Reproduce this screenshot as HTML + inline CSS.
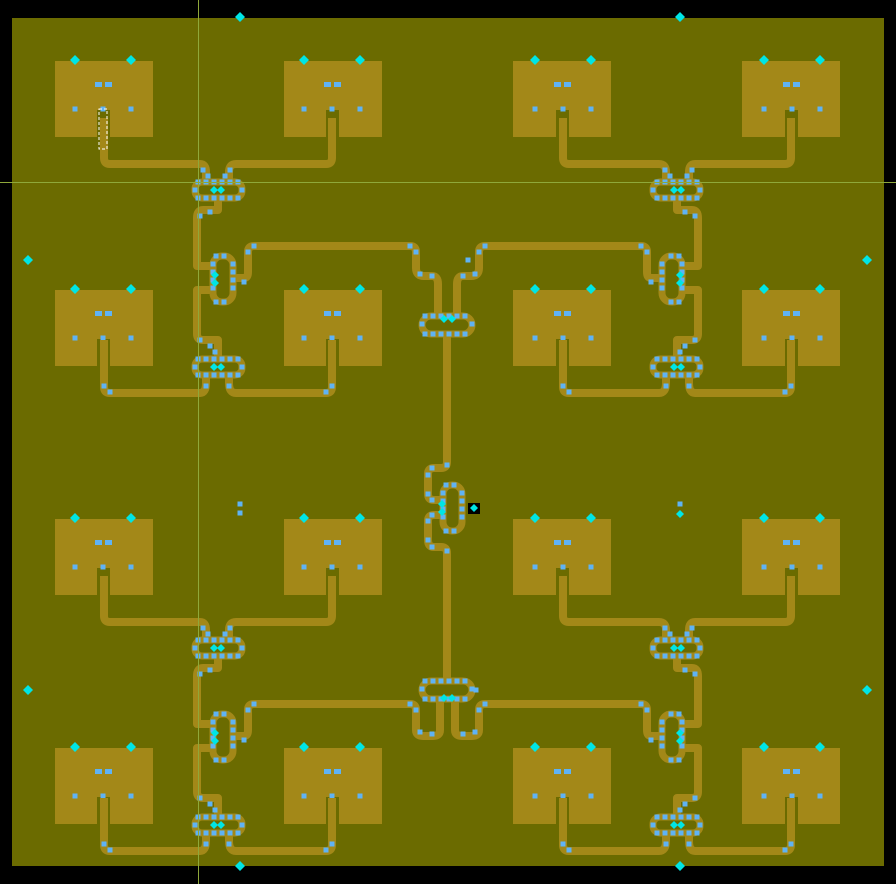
<!DOCTYPE html>
<html><head><meta charset="utf-8"><style>
html,body{margin:0;padding:0;background:#000;width:896px;height:884px;overflow:hidden}
svg{display:block}
</style></head><body>
<svg id="s" width="896" height="884" xmlns="http://www.w3.org/2000/svg"></svg>
<script>
var T='#a38818',V='#5fb3f5',C='#00e5e5';
var o='';
o+='<rect x="0" y="0" width="896" height="884" fill="#000"/>';
o+='<rect x="12" y="18" width="872" height="848" fill="#6b6b00"/>';
function via(x,y){return '<rect x="'+(x-2.5)+'" y="'+(y-2.5)+'" width="5" height="5" fill="'+V+'"/>';}
function dia(x,y,r){r=r||5;return '<path d="M'+x+','+(y-r)+' L'+(x+r)+','+y+' L'+x+','+(y+r)+' L'+(x-r)+','+y+'Z" fill="'+C+'"/>';}
function pad(x,y){
 var s='<path d="M'+x+','+y+' h98 v76 h-43 v-27 h-13 v27 h-42 z" fill="'+T+'"/>';
 s+=via(x+20,y+48)+via(x+48,y+48)+via(x+76,y+48);
 s+='<rect x="'+(x+40)+'" y="'+(y+21)+'" width="7" height="5" fill="'+V+'"/><rect x="'+(x+50)+'" y="'+(y+21)+'" width="7" height="5" fill="'+V+'"/>';
 s+=dia(x+20,y-1)+dia(x+76,y-1);
 return s;
}
function tr(d){return '<path d="'+d+'" fill="none" stroke="'+T+'" stroke-width="8" stroke-linejoin="round"/>';}
function loop(x,y,w,h,r){
 var s='<rect x="'+x+'" y="'+y+'" width="'+w+'" height="'+h+'" rx="'+r+'" fill="none" stroke="'+T+'" stroke-width="7"/>';
 var st=8;
 for(var i=x+3;i<=x+w-3;i+=st){s+=via(i,y)+via(i,y+h);}
 for(var j=y+st;j<=y+h-st;j+=st){s+=via(x,j)+via(x+w,j);}
 return s;
}
function group(bottom){
 var s='';
 s+=pad(55,61)+pad(284,61)+pad(55,290)+pad(284,290);
 s+=tr('M104,118 V158 Q104,164 110,164 H200 Q206,164 206,172 V182');
 s+=tr('M332,118 V158 Q332,164 326,164 H236 Q229,164 229,172 V182');
 s+=tr('M218,198 V210 H203 Q197,210 197,218 V266 H215');
 s+=tr('M215,290 H197 V334 Q197,340 203,340 H218 V359');
 s+=tr('M104,340 V387 Q104,393 110,393 H200 Q206,393 206,383 V375');
 s+=tr('M332,340 V387 Q332,393 326,393 H236 Q229,393 229,383 V375');
 if(!bottom){
  s+=tr('M233,278 H244 Q248,278 248,272 V252 Q248,246 254,246 H410 Q416,246 416,252 V268 Q416,276 424,276 H432 Q438,276 438,284 V316');
 } else {
  s+=tr('M233,278 H244 Q248,278 248,272 V252 Q248,246 254,246 H410 Q416,246 416,252 V272 Q416,278 423,278 H433 Q440,278 440,272 V240');
 }
 s+=loop(195,182,47,16,7)+loop(195,359,47,16,7)+loop(213,256,20,46,9);
 s+=via(203,170)+via(208,176)+via(230,170)+via(225,176)+via(210,212)+via(200,216)+via(200,340)+via(210,346)+via(215,352)+via(104,386)+via(110,392)+via(332,386)+via(326,392)+via(206,386)+via(229,386)+via(248,252)+via(254,246)+via(244,282)+via(410,246)+via(416,252)+via(420,274)+via(432,276);
 s+=dia(214,190,4)+dia(221,190,4)+dia(214,367,4)+dia(221,367,4)+dia(215,275,4)+dia(215,283,4);
 return s;
}
var g=group(false), gb=group(true);
o+='<g>'+g+'</g>';
o+='<g transform="translate(895,0) scale(-1,1)">'+g+'</g>';
o+='<g transform="translate(0,458)">'+gb+'</g>';
o+='<g transform="translate(895,458) scale(-1,1)">'+gb+'</g>';
o+=tr('M447,334 V462 Q447,468 441,468 H434 Q428,468 428,474 V494 Q428,500 434,500 H445');
o+=tr('M445,515 H434 Q428,515 428,521 V540 Q428,547 434,547 H441 Q447,547 447,553 V681');
o+=loop(422,316,50,18,9)+loop(443,485,19,46,9)+loop(422,681,50,18,9);
o+=via(447,465)+via(432,468)+via(428,475)+via(428,494)+via(432,500)+via(428,521)+via(432,515)+via(428,540)+via(432,547)+via(447,551)+via(476,690)+via(468,260);
o+=dia(444,319,4)+dia(452,319,4)+dia(442,504,4)+dia(442,512,4)+dia(444,698,4)+dia(452,698,4);
o+='<rect x="468" y="503" width="12" height="11" fill="#000"/>'+dia(474,508,4);
o+=via(240,504)+via(240,513)+via(680,504)+dia(680,514,4);
[[240,17],[680,17],[28,260],[867,260],[28,690],[867,690],[240,866],[680,866]].forEach(function(p){o+=dia(p[0],p[1],5);});
o+='<line x1="198.5" y1="0" x2="198.5" y2="884" stroke="#8fa83a" stroke-width="1"/>';
o+='<line x1="0" y1="182.5" x2="896" y2="182.5" stroke="#8fa83a" stroke-width="1"/>';
o+='<rect x="99" y="109" width="8" height="40" fill="none" stroke="#fff" stroke-width="1" stroke-dasharray="3,2"/>';
document.getElementById('s').innerHTML=o;
</script>
</body></html>
